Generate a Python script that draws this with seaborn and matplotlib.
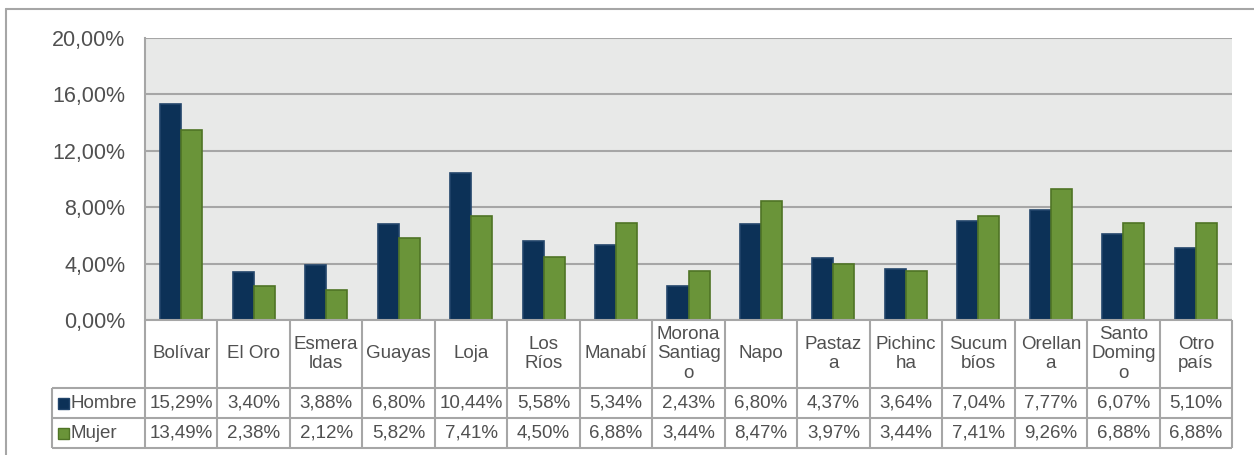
import matplotlib
matplotlib.use("Agg")
import matplotlib.pyplot as plt
from matplotlib.lines import Line2D
from matplotlib.patches import Rectangle
import pandas as pd
import seaborn as sns

# data (percent)
provincias = ["Bolívar", "El Oro", "Esmeraldas", "Guayas", "Loja", "Los Ríos",
              "Manabí", "Morona Santiago", "Napo", "Pastaza", "Pichincha",
              "Sucumbíos", "Orellana", "Santo Domingo", "Otro país"]
etiquetas = ["Bolívar", "El Oro", "Esmera\nldas", "Guayas", "Loja", "Los\nRíos",
             "Manabí", "Morona\nSantiag\no", "Napo", "Pastaz\na", "Pichinc\nha",
             "Sucum\nbíos", "Orellan\na", "Santo\nDoming\no", "Otro\npaís"]
hombre = [15.29, 3.40, 3.88, 6.80, 10.44, 5.58, 5.34, 2.43, 6.80, 4.37, 3.64,
          7.04, 7.77, 6.07, 5.10]
mujer = [13.49, 2.38, 2.12, 5.82, 7.41, 4.50, 6.88, 3.44, 8.47, 3.97, 3.44,
         7.41, 9.26, 6.88, 6.88]
series = ["Hombre", "Mujer"]
yticks = [0, 4, 8, 12, 16, 20]

colores = {"Hombre": "#0C3157", "Mujer": "#6A9439"}
bordes = {"Hombre": "#22456B", "Mujer": "#4F7425"}
gris_linea = "#A6A6A6"
gris_texto = "#505050"

df = pd.DataFrame({
    "provincia": provincias * 2,
    "serie": ["Hombre"] * len(provincias) + ["Mujer"] * len(provincias),
    "valor": hombre + mujer,
})

sns.set_style("white")
plt.rcParams["font.family"] = ["Liberation Sans", "DejaVu Sans"]

W, H = 1254, 455
fig = plt.figure(figsize=(W / 100, H / 100), dpi=100)

def fx(px):
    return px / W

def fy(py):
    return 1 - py / H

# pixel layout
x0, x1 = 145, 1232
y_top, y_zero = 38, 320
y_rows = [320, 388, 418, 448]
x_leg = 52

ax = fig.add_axes([fx(x0), fy(y_zero), fx(x1) - fx(x0), fy(y_top) - fy(y_zero)])
ax.set_facecolor("#E8E9E8")
sns.barplot(data=df, x="provincia", y="valor", hue="serie", order=provincias,
            hue_order=series, palette=colores, width=0.58, gap=0,
            saturation=1, ax=ax, legend=False, zorder=3)
for cont, s in zip(ax.containers, series):
    for p in cont:
        p.set_edgecolor(bordes[s])
        p.set_linewidth(1.2)

ax.set_xlim(-0.5, len(provincias) - 0.5)
ax.set_ylim(0, 20)
ax.set_yticks(yticks)
ax.set_yticklabels([f"{v:.2f}".replace(".", ",") + "%" for v in yticks],
                   fontsize=15.5, color=gris_texto)
ax.tick_params(axis="y", length=0, pad=14)
ax.set_xticks([])
ax.set_xlabel("")
ax.set_ylabel("")
ax.yaxis.grid(True, color=gris_linea, linewidth=1.5, zorder=0)
ax.set_axisbelow(True)
for side in ["top", "right", "bottom"]:
    ax.spines[side].set_visible(False)
ax.spines["left"].set_color(gris_linea)
ax.spines["left"].set_linewidth(1.5)

# data table underneath, same x units as the bars
colw = (x1 - x0) / len(provincias)
leg_units = (x0 - x_leg) / colw
tab = fig.add_axes([fx(x_leg), fy(y_rows[-1]), fx(x1) - fx(x_leg),
                    fy(y_rows[0]) - fy(y_rows[-1])])
tab.set_xlim(-0.5 - leg_units, len(provincias) - 0.5)
tab.set_ylim(y_rows[-1], y_rows[0])
tab.axis("off")

lkw = dict(color=gris_linea, linewidth=1.5, solid_capstyle="butt", clip_on=False)
right = len(provincias) - 0.5
tab.plot([-0.5, right], [y_rows[0]] * 2, **lkw)
for yr in y_rows[1:]:
    tab.plot([-0.5 - leg_units, right], [yr] * 2, **lkw)
for i in range(len(provincias) + 1):
    tab.plot([i - 0.5] * 2, [y_rows[0], y_rows[-1]], **lkw)
tab.plot([-0.5 - leg_units] * 2, [y_rows[1], y_rows[-1]], **lkw)

tkw = dict(ha="center", va="center", fontsize=13.5, color=gris_texto)
hy = (y_rows[0] + y_rows[1]) / 2
for i, lab in enumerate(etiquetas):
    tab.text(i, hy, lab, linespacing=1.17, **tkw)

fmt = lambda v: f"{v:.2f}".replace(".", ",") + "%"
for r, (s, vals) in enumerate(zip(series, [hombre, mujer])):
    cy = (y_rows[r + 1] + y_rows[r + 2]) / 2
    for i, v in enumerate(vals):
        tab.text(i, cy, fmt(v), **tkw)
    # legend key + name
    kx = -0.5 - leg_units + 6 / colw
    tab.add_patch(Rectangle((kx, cy + 5.5), 11 / colw, -11, facecolor=colores[s],
                            edgecolor=bordes[s], linewidth=1, clip_on=False))
    tab.text(kx + 13 / colw, cy, s, ha="left", va="center", fontsize=13.5,
             color=gris_texto)

# outer chart frame
fig.add_artist(Line2D([fx(6), 1], [fy(9), fy(9)], color=gris_linea, linewidth=1.5))
fig.add_artist(Line2D([fx(6), fx(6)], [fy(9), 0], color=gris_linea, linewidth=1.5))

fig.savefig("out.png", dpi=100, facecolor="white")
